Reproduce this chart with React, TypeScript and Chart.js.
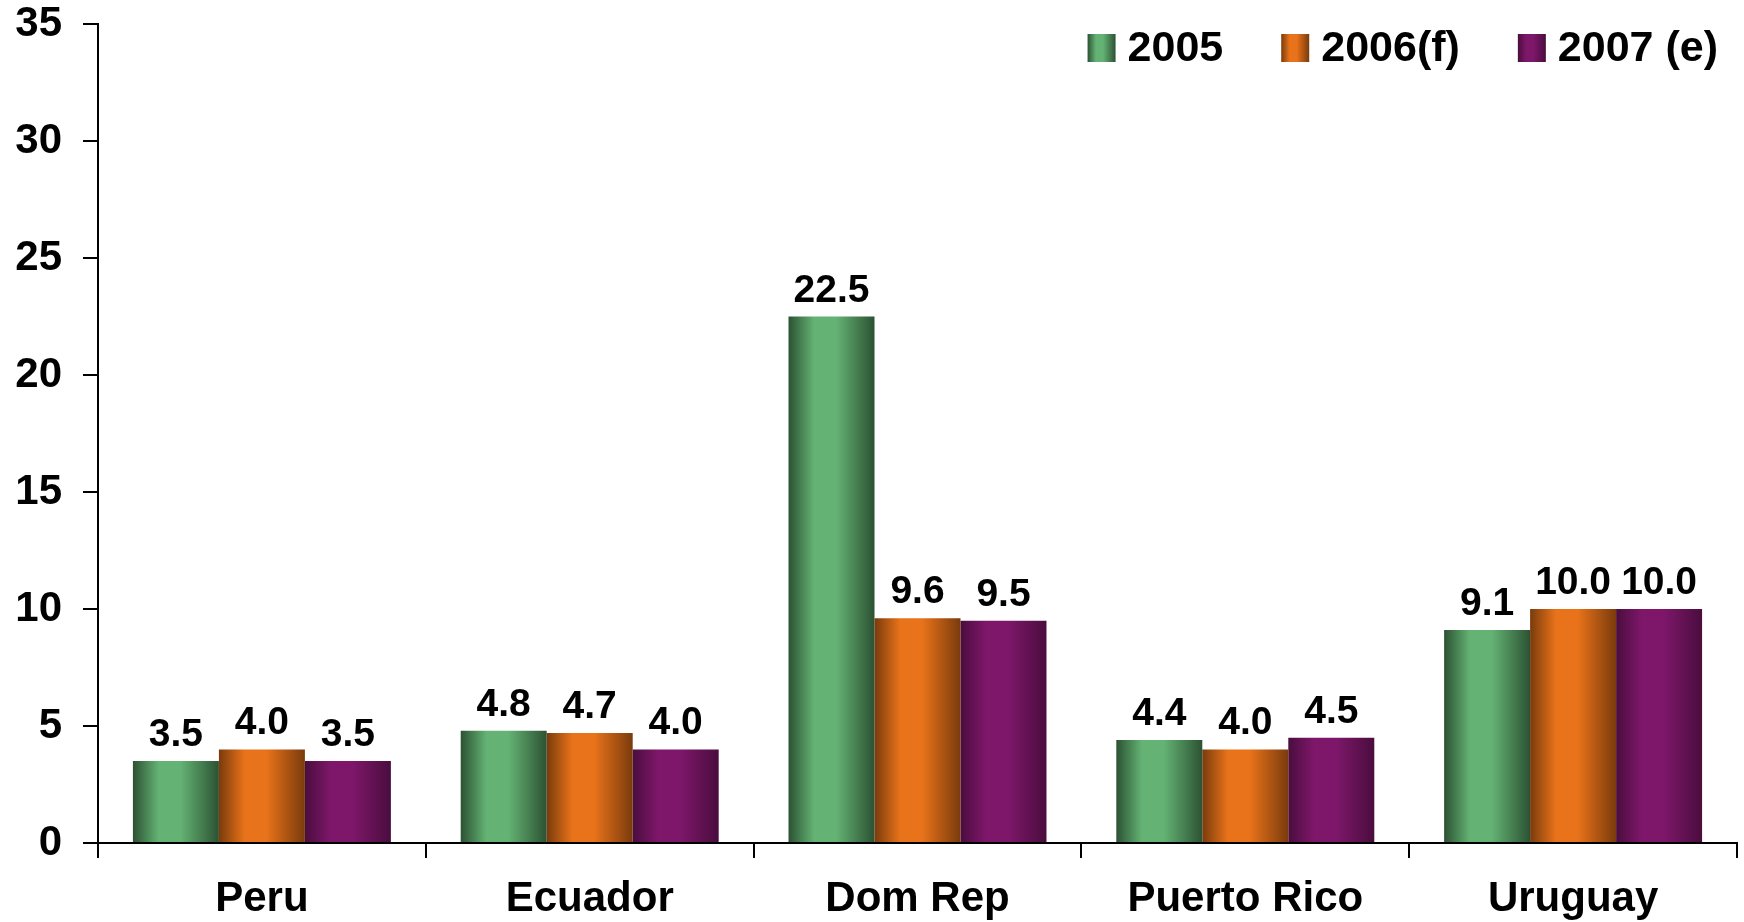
import React, { useEffect, useRef } from 'react';
import { Chart, registerables } from 'chart.js';

Chart.register(...registerables);

const categories = ['Peru', 'Ecuador', 'Dom Rep', 'Puerto Rico', 'Uruguay'];
const seriesNames = ['2005', '2006(f)', '2007 (e)'];
const values2005 = [3.5, 4.8, 22.5, 4.4, 9.1];
const values2006 = [4.0, 4.7, 9.6, 4.0, 10.0];
const values2007 = [3.5, 4.0, 9.5, 4.5, 10.0];
const yMin = 0;
const yMax = 35;
const yStep = 5;

const FONT = '"Liberation Sans", Arial, sans-serif';

const palettes = [
  { dark: '#2c5233', light: '#64b374' },
  { dark: '#7a3b0c', light: '#e9731a' },
  { dark: '#4a0d3e', light: '#7e176a' },
];

function makeGradient(ctx: CanvasRenderingContext2D, x0: number, x1: number, p: { dark: string; light: string }) {
  const g = ctx.createLinearGradient(x0, 0, x1, 0);
  g.addColorStop(0, p.dark);
  g.addColorStop(0.3, p.light);
  g.addColorStop(0.55, p.light);
  g.addColorStop(1, p.dark);
  return g;
}

const gradientPlugin = {
  id: 'gradientBars',
  beforeDatasetsDraw(chart: any) {
    const ctx = chart.ctx;
    chart.data.datasets.forEach((ds: any, i: number) => {
      const meta = chart.getDatasetMeta(i);
      meta.data.forEach((el: any) => {
        const { x, width } = el.getProps(['x', 'width'], true);
        try {
          el.options.backgroundColor = makeGradient(ctx, x - width / 2, x + width / 2, palettes[i]);
        } catch (e) {
          /* ignore */
        }
      });
    });
  },
};

const labelPlugin = {
  id: 'valueLabels',
  afterDatasetsDraw(chart: any) {
    const ctx = chart.ctx;
    ctx.save();
    ctx.font = `bold 39px ${FONT}`;
    ctx.fillStyle = '#000';
    ctx.textAlign = 'center';
    ctx.textBaseline = 'alphabetic';
    chart.data.datasets.forEach((ds: any, i: number) => {
      const meta = chart.getDatasetMeta(i);
      meta.data.forEach((el: any, j: number) => {
        const v = ds.data[j];
        ctx.fillText(Number(v).toFixed(1), el.x, el.y - 15);
      });
    });
    ctx.restore();
  },
};

const legendPlugin = {
  id: 'customLegend',
  afterDraw(chart: any) {
    const ctx = chart.ctx;
    ctx.save();
    ctx.font = `bold 43px ${FONT}`;
    const box = 28;
    const gapText = 12;
    const gapItem = 58;
    const rightEdge = 1718;
    const boxTop = 34;
    const names = chart.data.datasets.map((d: any) => d.label);
    const widths = names.map((n: string) => ctx.measureText(n).width);
    let total = 0;
    widths.forEach((w: number, i: number) => {
      total += box + gapText + w + (i < widths.length - 1 ? gapItem : 0);
    });
    let x = rightEdge - total;
    names.forEach((n: string, i: number) => {
      ctx.fillStyle = makeGradient(ctx, x, x + box, palettes[i]);
      ctx.fillRect(x, boxTop, box, box);
      ctx.fillStyle = '#000';
      ctx.textAlign = 'left';
      ctx.textBaseline = 'middle';
      ctx.fillText(n, x + box + gapText, boxTop + box / 2 + 1);
      x += box + gapText + widths[i] + gapItem;
    });
    ctx.restore();
  },
};

export default function App() {
  const ref = useRef<HTMLCanvasElement | null>(null);

  useEffect(() => {
    document.body.style.margin = '0';
    const canvas = ref.current;
    if (!canvas) return;
    const chart = new Chart(canvas, {
      type: 'bar',
      data: {
        labels: categories,
        datasets: [
          { label: seriesNames[0], data: values2005, backgroundColor: () => palettes[0].light },
          { label: seriesNames[1], data: values2006, backgroundColor: () => palettes[1].light },
          { label: seriesNames[2], data: values2007, backgroundColor: () => palettes[2].light },
        ],
      },
      options: {
        responsive: false,
        animation: false,
        maintainAspectRatio: false,
        layout: { padding: { top: 24, right: 7, bottom: 0, left: 0 } },
        datasets: {
          bar: { categoryPercentage: 0.787, barPercentage: 1.0, borderWidth: 0 },
        },
        plugins: {
          legend: { display: false },
          tooltip: { enabled: false },
        },
        scales: {
          x: {
            ticks: {
              color: '#000',
              font: { family: FONT, size: 42, weight: 'bold', lineHeight: 1.2 },
              padding: 16,
              maxRotation: 0,
              autoSkip: false,
            },
            grid: {
              offset: true,
              drawOnChartArea: false,
              drawTicks: true,
              tickLength: 15,
              color: '#000',
              lineWidth: 2,
            },
            border: { display: true, color: '#000', width: 2 },
            afterFit: (s: any) => {
              s.height = 79;
            },
          },
          y: {
            min: yMin,
            max: yMax,
            ticks: {
              stepSize: yStep,
              color: '#000',
              font: { family: FONT, size: 42, weight: 'bold', lineHeight: 0.1 },
              padding: 21,
            },
            grid: {
              drawOnChartArea: false,
              drawTicks: true,
              tickLength: 15,
              color: '#000',
              lineWidth: 2,
            },
            border: { display: true, color: '#000', width: 2 },
            afterFit: (s: any) => {
              s.width = 98;
            },
          },
        },
      },
      plugins: [gradientPlugin, labelPlugin, legendPlugin],
    } as any);
    return () => chart.destroy();
  }, []);

  return (
    <div style={{ width: 1744, height: 922, background: '#fff' }}>
      <canvas ref={ref} width={1744} height={922} style={{ display: 'block' }} />
    </div>
  );
}
